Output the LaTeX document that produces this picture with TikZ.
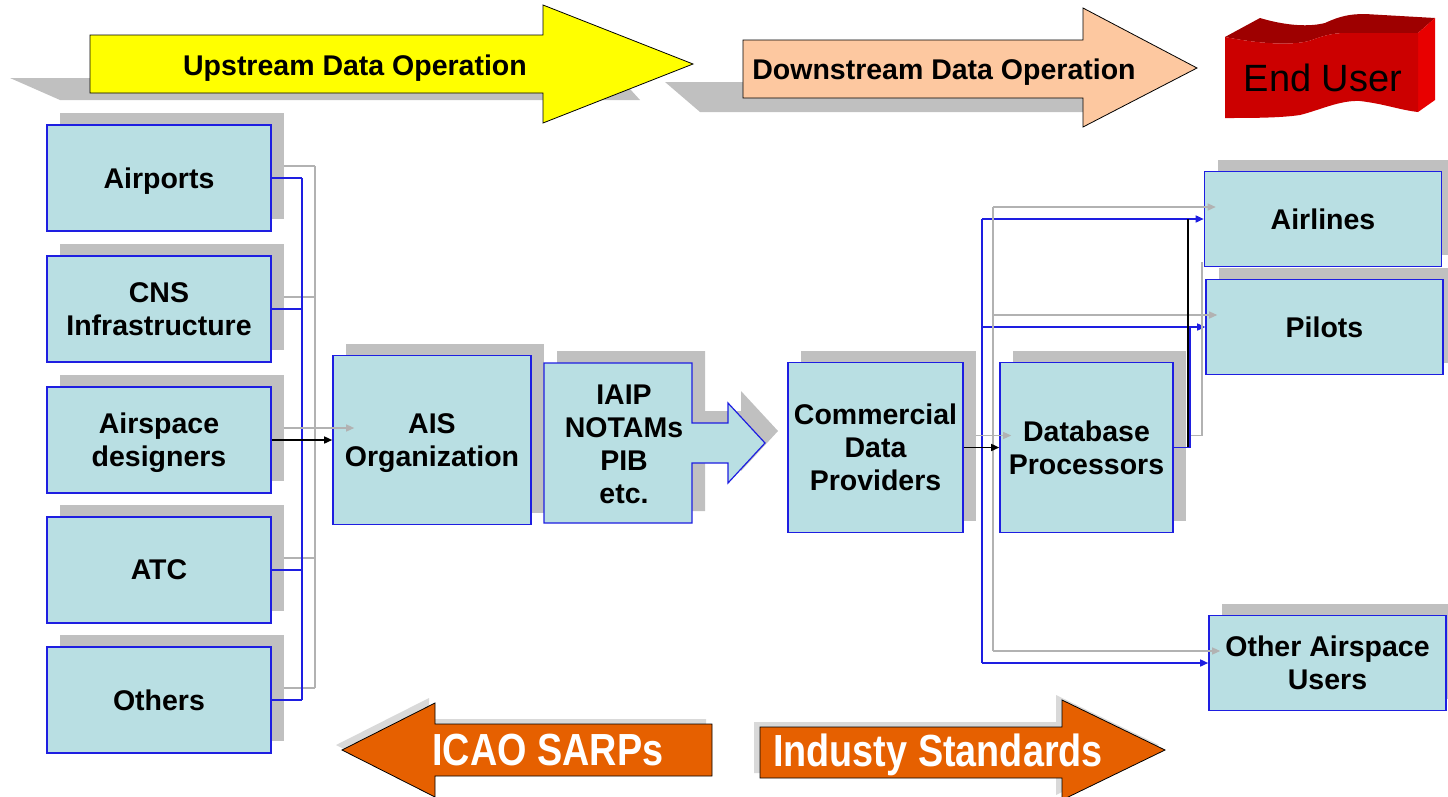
\documentclass[tikz,border=0pt]{standalone}
\usepackage{fontspec}
\setmainfont{Liberation Sans}
\newfontfamily\narrowfont[FakeStretch=0.84]{Liberation Sans}
\usetikzlibrary{arrows.meta,shadows}
\definecolor{boxfill}{RGB}{185,223,227}
\definecolor{boxblue}{RGB}{30,30,225}
\definecolor{shadowgray}{RGB}{192,192,192}
\definecolor{upyellow}{RGB}{255,255,0}
\definecolor{downpeach}{RGB}{253,200,160}
\definecolor{stdorange}{RGB}{230,96,0}
\definecolor{userred}{RGB}{204,0,0}
\definecolor{usertop}{RGB}{158,0,0}
\definecolor{userside}{RGB}{232,0,0}

\begin{document}
\begin{tikzpicture}[x=1pt,y=1pt,
        every node/.style={inner sep=0pt},
        infobox/.style={draw=boxblue,fill=boxfill,line width=1.6pt,align=center,
          font=\fontsize{28.5}{33}\selectfont\bfseries,
          general shadow={fill=shadowgray,shadow xshift=13pt,shadow yshift=12pt}},
        leftbox/.style={infobox,minimum width=224pt,minimum height=106pt},
        userbox/.style={infobox,minimum width=237pt,minimum height=95pt},
        lowtext/.style={text depth=-8pt},
        blueline/.style={draw=boxblue,line width=1.5pt},
        bluearrow/.style={blueline,-{Triangle[length=8pt,width=7pt]}},
        greyline/.style={draw=gray!60,line width=1.2pt},
        greyarrow/.style={greyline,-{Triangle[length=8pt,width=7pt]}},
        blackarrow/.style={draw=black,line width=1.5pt,-{Triangle[length=8pt,width=7pt]}},
        bandtext/.style={font=\fontsize{28.5}{33}\selectfont\bfseries},
        stdtext/.style={font=\narrowfont\fontsize{45}{50}\selectfont\bfseries,text=white}]
        \useasboundingbox (0,0) rectangle (1448,-796);
        \fill [shadowgray] (10,-78) -- (620,-78) -- (640,-100) -- (60,-100) -- cycle;
        \draw [fill=upyellow,line width=0.8pt] (90,-35) -- (543,-35) -- (543,-5) -- (693,-64) -- (543,-123) -- (543,-93) -- (90,-93) -- cycle;
        \node [bandtext] (upstream) at (355,-68) {Upstream Data Operation};
        \fill [shadowgray] (665,-82) -- (1090,-82) -- (1100,-112) -- (700,-112) -- cycle;
        \draw [fill=downpeach,line width=0.8pt] (743,-40) -- (1083,-40) -- (1083,-8) -- (1197,-68) -- (1083,-127) -- (1083,-98) -- (743,-98) -- cycle;
        \node [bandtext] (downstream) at (944,-72) {Downstream Data Operation};
        \fill [usertop] (1225,-37) .. controls (1260,-44) and (1295,-46) .. (1312,-40) .. controls (1325,-35) and (1335,-33) .. (1345,-33) -- (1418,-33)
          -- (1435,-18) -- (1365,-14) .. controls (1350,-14) and (1340,-16) .. (1325,-23) .. controls (1305,-28) and (1280,-24) .. (1260,-18) -- cycle;
        \fill [userside] (1418,-33) -- (1435,-18) -- (1435,-100) -- (1418,-112) -- cycle;
        \fill [userred] (1225,-37) .. controls (1260,-44) and (1295,-46) .. (1312,-40) .. controls (1325,-35) and (1335,-33) .. (1345,-33) -- (1418,-33)
          -- (1418,-112) .. controls (1400,-110) and (1385,-104) .. (1360,-101) .. controls (1340,-100) and (1320,-110) .. (1300,-115)
          .. controls (1280,-118) and (1250,-118) .. (1225,-118) -- cycle;
        \node [font=\fontsize{38}{40}\selectfont] (enduser) at (1323,-78) {End User};
        \node [leftbox,lowtext] (airports) at (159,-178) {Airports};
        \node [leftbox] (cns) at (159,-309) {CNS\\Infrastructure};
        \node [leftbox,lowtext] (airspace) at (159,-440) {Airspace\\designers};
        \node [leftbox] (atc) at (159,-570) {ATC};
        \node [leftbox] (others) at (159,-700) {Others};
        \node [infobox,lowtext,minimum width=198pt,minimum height=169pt] (ais) at (432,-440) {AIS\\Organization};
        \path [draw=boxblue,fill=boxfill,line width=1.2pt,general shadow={fill=shadowgray,shadow xshift=13pt,shadow yshift=12pt}]
          (544,-363) -- (692,-363) -- (692,-423) -- (728,-423) -- (728,-403) -- (765,-443) -- (728,-483) -- (728,-463) -- (692,-463) -- (692,-523) -- (544,-523) -- cycle;
        \node [bandtext,align=center] (iaip) at (624,-444) {IAIP\\NOTAMs\\PIB\\etc.};
        \node [infobox,minimum width=175pt,minimum height=170pt] (cdp) at (875.5,-447.5) {Commercial\\Data\\Providers};
        \node [infobox,minimum width=173pt,minimum height=170pt] (db) at (1086.5,-447.5) {Database\\Processors};
        \node [userbox] (airlines) at (1323,-219) {Airlines};
        \node [userbox] (pilots) at (1324.5,-327) {Pilots};
        \node [userbox] (oau) at (1327.5,-663) {Other Airspace\\Users};
        \coordinate (lbus) at (302,0);
        \coordinate (lgbus) at (315,0);
        \foreach \src in {airports,cns,airspace,atc,others} {
          \coordinate (g\src) at ([shift={(12pt,12pt)}]\src.east);
          \draw [greyline] (g\src) -- (g\src -| lgbus);
          \draw [blueline] (\src.east) -- (\src.east -| lbus);
        }
        \draw [greyline] (gairports -| lgbus) -- (gothers -| lgbus);
        \draw [blueline] (airports.east -| lbus) -- (others.east -| lbus);
        \coordinate (aisgrey) at ([shift={(22pt,12pt)}]ais.west);
        \draw [greyarrow] (gairspace) -- (aisgrey);
        \draw [blackarrow] (airspace.east) -- (ais.west);
        \coordinate (rbus) at (982,0);
        \coordinate (rgbus) at (993,0);
        \foreach \dst in {airlines,pilots,oau} {
          \coordinate (g\dst) at ([shift={(12pt,12pt)}]\dst.west);
          \draw [greyarrow] (g\dst -| rgbus) -- (g\dst);
          \draw [bluearrow] (\dst.west -| rbus) -- (\dst.west);
        }
        \draw [greyline] (gairlines -| rgbus) -- (goau -| rgbus);
        \draw [blueline] (airlines.west -| rbus) -- (oau.west -| rbus);
        \coordinate (cdpgrey) at ([shift={(12pt,12pt)}]cdp.east);
        \coordinate (dbgrey) at ([shift={(12pt,12pt)}]db.west);
        \draw [greyarrow] (cdpgrey) -- (dbgrey);
        \draw [blackarrow] (cdp.east) -- (db.west);
        \coordinate (dbbus) at (1188,0);
        \coordinate (dbblue) at (1190,0);
        \coordinate (dbgreytop) at (1202,-262);
        \draw [greyline] ([shift={(13pt,12pt)}]db.east) -| (dbgreytop);
        \draw [draw=black,line width=1.5pt] (db.east) -| (dbbus |- airlines.west);
        \draw [blueline] (db.east) -| (dbblue |- pilots.west);
        \fill [gray!30] (706,-719) -- (429,-719) -- (429,-698) -- (336,-745) -- (429,-792) -- (429,-771) -- (706,-771) -- cycle;
        \draw [fill=stdorange,line width=0.8pt] (712,-724) -- (435,-724) -- (435,-703) -- (342,-750) -- (435,-797) -- (435,-776) -- (712,-776) -- cycle;
        \node [stdtext] (icao) at (548,-750) {ICAO SARPs};
        \fill [gray!30] (754,-722) -- (1056,-722) -- (1056,-695) -- (1159,-745) -- (1056,-795) -- (1056,-773) -- (754,-773) -- cycle;
        \draw [fill=stdorange,line width=0.8pt] (760,-727) -- (1062,-727) -- (1062,-700) -- (1165,-750) -- (1062,-800) -- (1062,-778) -- (760,-778) -- cycle;
        \node [stdtext] (industry) at (938,-755) {Industy Standards};
\end{tikzpicture}
\end{document}
